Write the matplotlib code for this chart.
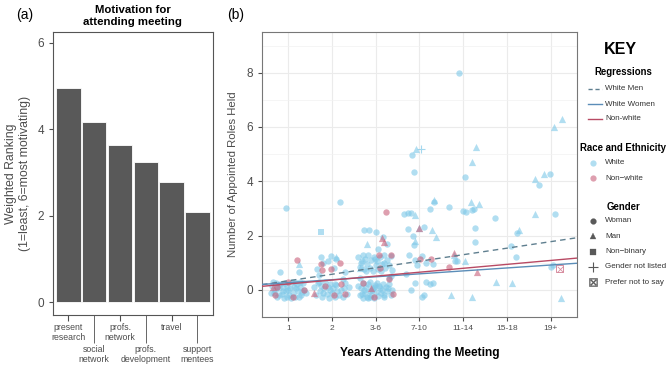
import numpy as np
import matplotlib.pyplot as plt
from matplotlib.ticker import MultipleLocator

plt.rcParams['font.family'] = ['Liberation Sans', 'DejaVu Sans']

# ---- panel (a) data
motives = ['present\nresearch', 'social\nnetwork', 'profs.\nnetwork',
           'profs.\ndevelopment', 'travel', 'support\nmentees']
ranking = [4.95, 4.18, 3.64, 3.24, 2.79, 2.08]

# ---- panel (b) data (x = jittered year category position, y = jittered roles)
year_labels = ['1', '2', '3-6', '7-10', '11-14', '15-18', '19+']

white_woman_x = [0.62, 0.68, 0.72, 0.75, 0.78, 0.82, 0.85, 0.88, 0.9, 0.93, 0.95, 0.98, 1.02, 1.05,
                 1.08, 1.1, 1.13, 1.16, 1.2, 1.22, 1.26, 1.3, 1.33, 1.36, 1.4, 0.7, 0.8, 1.0, 1.15,
                 1.25, 0.66, 0.97, 1.28, 0.94, 0.82, 1.25, 0.74, 0.87, 1.06, 1.18, 1.32, 0.6,
                 1.6, 1.64, 1.68, 1.72, 1.75, 1.78, 1.82, 1.85, 1.88, 1.9, 1.93, 1.96, 2.0, 2.03,
                 2.06, 2.1, 2.15, 2.2, 2.25, 2.3, 2.35, 2.38, 1.7, 1.95, 2.12, 1.8, 2.08, 2.28,
                 1.76, 1.9, 1.8, 1.65, 2.05, 2.1, 1.98, 2.18, 2.3, 1.7, 2.25,
                 2.6, 2.63, 2.66, 2.7, 2.72, 2.75, 2.78, 2.8, 2.83, 2.86, 2.88, 2.9, 2.93, 2.96,
                 2.98, 3.0, 3.03, 3.06, 3.1, 3.13, 3.16, 3.2, 3.23, 3.26, 3.3, 3.34, 3.38, 2.68,
                 2.92, 3.08, 3.18, 2.82, 2.74, 2.95, 3.14, 3.28, 2.88,
                 2.6, 2.64, 2.68, 2.7, 2.73, 2.76, 2.8, 2.83, 2.86, 2.9, 2.93, 2.96, 3.0, 3.03,
                 3.06, 3.1, 3.14, 3.18, 3.22, 3.26, 3.3, 3.34, 3.38, 2.78, 3.12, 2.66, 2.98, 3.2,
                 2.74, 2.85, 3.0, 3.17, 3.25, 3.05, 3.3, 2.65, 3.35,
                 3.84, 3.87, 3.74, 3.8, 3.74, 4.1, 4.23, 4.33, 3.85, 3.87, 3.77, 3.9, 4.05, 4.15,
                 3.95, 4.3, 3.9, 3.8, 4.05, 4.1, 4.25, 4.3, 3.7, 4.15, 3.65,
                 4.91, 5.05, 4.67, 5.0, 5.06, 5.2, 5.25, 5.27, 5.27, 4.82, 4.86, 5.73,
                 6.08, 6.2, 6.23,
                 6.73, 6.98, 7.09, 7.0, 7.05]
white_woman_y = [0.15, -0.1, 0.25, -0.25, 0.05, 0.2, -0.15, 0.1, -0.3, 0.25, -0.05, 0.15, -0.2, 0.05,
                 0.28, -0.1, 0.12, -0.28, 0.2, -0.05, 0.1, -0.2, 0.25, 0.0, -0.12, 0.0, -0.2, 0.0, 0.3,
                 -0.25, 0.3, -0.28, 0.28, 3.03, 0.65, 0.66, 0.12, -0.05, -0.3, 0.05, -0.08, -0.1,
                 0.1, -0.2, 0.25, -0.05, 0.15, -0.28, 0.05, 0.28, -0.15, 0.12, -0.3, 0.2, -0.1, 0.05,
                 -0.25, 0.18, -0.2, 0.0, -0.28, 0.25, -0.15, 0.1, 0.3, 0.0, -0.05, -0.1, 0.22, 0.05,
                 1.22, 1.08, 1.0, 0.75, 0.8, 1.15, 1.25, 3.24, 0.65, 0.55, 0.4,
                 0.15, -0.2, 0.05, -0.3, 0.25, -0.1, 0.1, -0.25, 0.2, -0.05, 0.3, -0.18, 0.08, -0.3,
                 0.18, -0.08, 0.25, -0.22, 0.05, -0.12, 0.22, -0.28, 0.1, -0.05, 0.2, -0.2, 0.0, -0.15,
                 0.0, 0.15, -0.2, -0.3, 0.0, 0.12, -0.02, 0.08, -0.25,
                 1.2, 0.85, 1.05, 1.3, 0.75, 1.15, 0.95, 1.28, 0.8, 1.1, 0.7, 1.22, 0.9, 1.05,
                 0.78, 1.2, 0.95, 1.3, 0.8, 1.1, 0.9, 1.25, 0.72, 0.7, 0.7, 1.0, 1.15, 1.0,
                 2.2, 2.2, 2.12, 1.94, 1.7, 1.5, 0.45, 0.45, 0.5,
                 4.96, 4.33, 2.82, 2.82, 2.24, 2.3, 2.97, 3.25, 2.0, 1.65, 1.3, 1.1, 1.25, 1.0,
                 0.9, 0.95, 0.25, 0.0, -0.25, -0.2, 0.2, 0.25, 0.6, 0.3, 2.8,
                 7.99, 4.17, 3.04, 2.92, 2.88, 2.95, 2.97, 2.29, 1.78, 1.06, 1.08, 2.64,
                 1.62, 1.2, 2.08,
                 3.86, 4.25, 2.79, 0.86, 0.9]

white_man_x = [1.25, 2.1, 2.8, 2.65, 3.93, 3.9, 4.0, 4.28, 4.37, 3.9, 4.33, 5.29, 5.2, 5.17, 5.35,
               5.03, 4.72, 5.2, 5.74, 6.12, 6.27, 6.65, 6.64, 6.85, 7.07, 7.26, 7.24, 4.78]
white_man_y = [0.95, 1.2, 1.7, 0.8, 5.18, 2.75, 2.27, 2.2, 1.96, 1.8, 3.31, 5.25, 4.72, 3.25, 3.16,
               1.08, -0.18, -0.25, 0.3, 0.25, 2.2, 2.79, 4.1, 4.25, 6.0, 6.31, -0.3, 1.3]

white_nonbinary_x = [1.75]
white_nonbinary_y = [2.12]
white_notlisted_x = [4.03]
white_notlisted_y = [5.18]

nonwhite_woman_x = [1.2, 1.0, 0.7, 1.35, 1.1, 0.75, 1.75, 2.18, 1.98, 1.78, 2.3, 2.05, 1.85, 2.2,
                    3.23, 3.08, 3.35, 3.3, 3.4, 2.95, 2.7, 3.1, 4.02, 4.26, 4.68]
nonwhite_woman_y = [1.1, 0.3, -0.2, 0.0, -0.25, 0.1, 0.95, 1.0, 0.76, 0.73, -0.15, -0.2, 0.15, 0.2,
                    2.88, 1.3, 1.3, 0.4, -0.15, -0.25, 0.25, 0.8, 1.15, 1.15, 0.83]
nonwhite_man_x = [0.65, 1.6, 3.14, 3.2, 2.9, 4.0, 4.79, 5.32]
nonwhite_man_y = [0.1, -0.1, 1.9, 1.75, 0.05, 2.27, 1.35, 0.67]
nonwhite_prefernot_x = [7.2]
nonwhite_prefernot_y = [0.78]

reg_x = [0.4, 7.6]
white_men_fit = [0.19, 1.92]
white_women_fit = [0.2, 0.98]
nonwhite_fit = [0.13, 1.17]

WHITE = '#7ec8e8'
NONWHITE = '#c8607a'
C_MEN = '#5f7f8f'
C_WOMEN = '#5b8db8'
C_NW = '#b84a64'
GREY_TXT = '#4d4d4d'
FRAME = '#555555'

fig = plt.figure(figsize=(6.69, 3.65), dpi=100)

# ---------------- panel (a)
ax1 = fig.add_axes([0.0792, 0.137, 0.239, 0.775])
pos = np.arange(1, len(motives) + 1)
ax1.bar(pos, ranking, width=0.94, color='#595959', edgecolor='white', linewidth=0.6, zorder=2)
ax1.set_xlim(0.4, 6.6)
ax1.set_ylim(-0.3, 6.25)
ax1.set_yticks([0, 2, 4, 6])
ax1.tick_params(axis='y', labelsize=8.5, labelcolor=GREY_TXT, color=GREY_TXT, length=3)
ax1.set_xticks(pos[::2])
ax1.set_xticklabels(motives[::2])
ax1.set_xticks(pos[1::2], minor=True)
ax1.set_xticklabels(motives[1::2], minor=True)
ax1.tick_params(axis='x', which='major', labelsize=6.3, labelcolor=GREY_TXT, color=GREY_TXT,
                length=4, pad=2)
ax1.tick_params(axis='x', which='minor', labelsize=6.3, labelcolor=GREY_TXT, color=GREY_TXT,
                length=20, pad=1.5)
for lab in ax1.get_xticklabels(which='both'):
    lab.set_linespacing(1.1)
for s in ax1.spines.values():
    s.set_color(FRAME)
ax1.set_ylabel('Weighted Ranking\n(1=least, 6=most motivating)', fontsize=8.8, color=GREY_TXT,
               labelpad=4.5)
ax1.set_title('Motivation for\nattending meeting', fontsize=8.2, fontweight='bold', pad=5,
              linespacing=1.25)
fig.text(25 / 669, 1 - 15 / 365, '(a)', fontsize=10, ha='center', va='center')

# ---------------- panel (b)
ax2 = fig.add_axes([0.3916, 0.1315, 0.4709, 0.781])
ax2.set_xlim(0.4, 7.6)
ax2.set_ylim(-1.0, 9.5)
ax2.set_xticks(range(1, 8))
ax2.set_xticklabels(year_labels)
ax2.set_yticks([0, 2, 4, 6, 8])
ax2.yaxis.set_minor_locator(MultipleLocator(1))
ax2.grid(which='major', color='#ebebeb', lw=0.8, zorder=0)
ax2.grid(which='minor', axis='y', color='#f2f2f2', lw=0.5, zorder=0)
ax2.tick_params(axis='x', labelsize=6, labelcolor=GREY_TXT, color=GREY_TXT, length=3, pad=3)
ax2.tick_params(axis='y', labelsize=8.5, labelcolor=GREY_TXT, color=GREY_TXT, length=3)
ax2.tick_params(axis='y', which='minor', length=0)
for s in ax2.spines.values():
    s.set_color('#777777')
ax2.set_axisbelow(True)

kw = dict(alpha=0.6, linewidths=0, zorder=3)
ax2.scatter(white_woman_x, white_woman_y, s=21, marker='o', color=WHITE, **kw)
ax2.scatter(white_man_x, white_man_y, s=27, marker='^', color=WHITE, **kw)
ax2.scatter(white_nonbinary_x, white_nonbinary_y, s=21, marker='s', color=WHITE, **kw)
ax2.scatter(white_notlisted_x, white_notlisted_y, s=40, marker='+', color=WHITE, alpha=0.7,
            linewidths=0.8, zorder=3)
ax2.scatter(nonwhite_woman_x, nonwhite_woman_y, s=21, marker='o', color=NONWHITE, **kw)
ax2.scatter(nonwhite_man_x, nonwhite_man_y, s=27, marker='^', color=NONWHITE, **kw)
ax2.scatter(nonwhite_prefernot_x, nonwhite_prefernot_y, s=24, marker='s', facecolor='none',
            edgecolor=NONWHITE, linewidths=0.7, alpha=0.7, zorder=3)
ax2.scatter(nonwhite_prefernot_x, nonwhite_prefernot_y, s=16, marker='x', color=NONWHITE,
            linewidths=0.6, alpha=0.7, zorder=3)

ax2.plot(reg_x, white_men_fit, ls=(0, (4, 3)), color=C_MEN, lw=1.0, zorder=4)
ax2.plot(reg_x, white_women_fit, color=C_WOMEN, lw=1.0, zorder=4)
ax2.plot(reg_x, nonwhite_fit, color=C_NW, lw=1.0, zorder=4)

ax2.set_ylabel('Number of Appointed Roles Held', fontsize=8.2, color=GREY_TXT, labelpad=6)
ax2.set_xlabel('Years Attending the Meeting', fontsize=8.6, fontweight='bold', labelpad=10.5)
fig.text(236 / 669, 1 - 15 / 365, '(b)', fontsize=10, ha='center', va='center')

# ---------------- key (drawn in pixel coordinates of the figure)
key = fig.add_axes([0, 0, 1, 1], facecolor='none')
key.set_xlim(0, 669)
key.set_ylim(365, 0)
key.axis('off')

TXT = dict(fontsize=5.8, color='#333333', va='center', ha='left')
TTL = dict(fontsize=6.9, fontweight='bold', color='black', va='center', ha='center')
key.text(620, 50, 'KEY', fontsize=11.5, fontweight='bold', ha='center', va='center')

key.text(623, 72, 'Regressions', **TTL)
reg_styles = [(C_MEN, (0, (3, 2)), 'White Men'), (C_WOMEN, '-', 'White Women'),
              (C_NW, '-', 'Non-white')]
for i, (c, ls, lab) in enumerate(reg_styles):
    yy = 89 + 15 * i
    key.plot([588, 602], [yy, yy], color=c, ls=ls, lw=1.0)
    key.text(605, yy, lab, **TXT)

key.text(623.5, 148, 'Race and Ethnicity', **TTL)
for i, (c, lab) in enumerate([(WHITE, 'White'), (NONWHITE, 'Non\u2212white')]):
    yy = 163 + 15 * i
    key.plot([592.5], [yy], marker='o', ms=4.5, color=c, alpha=0.6, mew=0)
    key.text(605, yy, lab, **TXT)

key.text(623.5, 207, 'Gender', **TTL)
g = '#595959'
gender_keys = [('o', 4.2, 'Woman'), ('^', 4.8, 'Man'), ('s', 4.0, 'Non\u2212binary'),
               ('+', 6.5, 'Gender not listed'), ('$\\boxtimes$', 6.0, 'Prefer not to say')]
for i, (m, ms, lab) in enumerate(gender_keys):
    yy = 221 + 15.3 * i
    key.plot([592.5], [yy], marker=m, ms=ms, color=g, ls='', mew=0.8 if m == '+' else 0.2)
    key.text(605, yy, lab, **TXT)

fig.savefig('out.png', dpi=100)
